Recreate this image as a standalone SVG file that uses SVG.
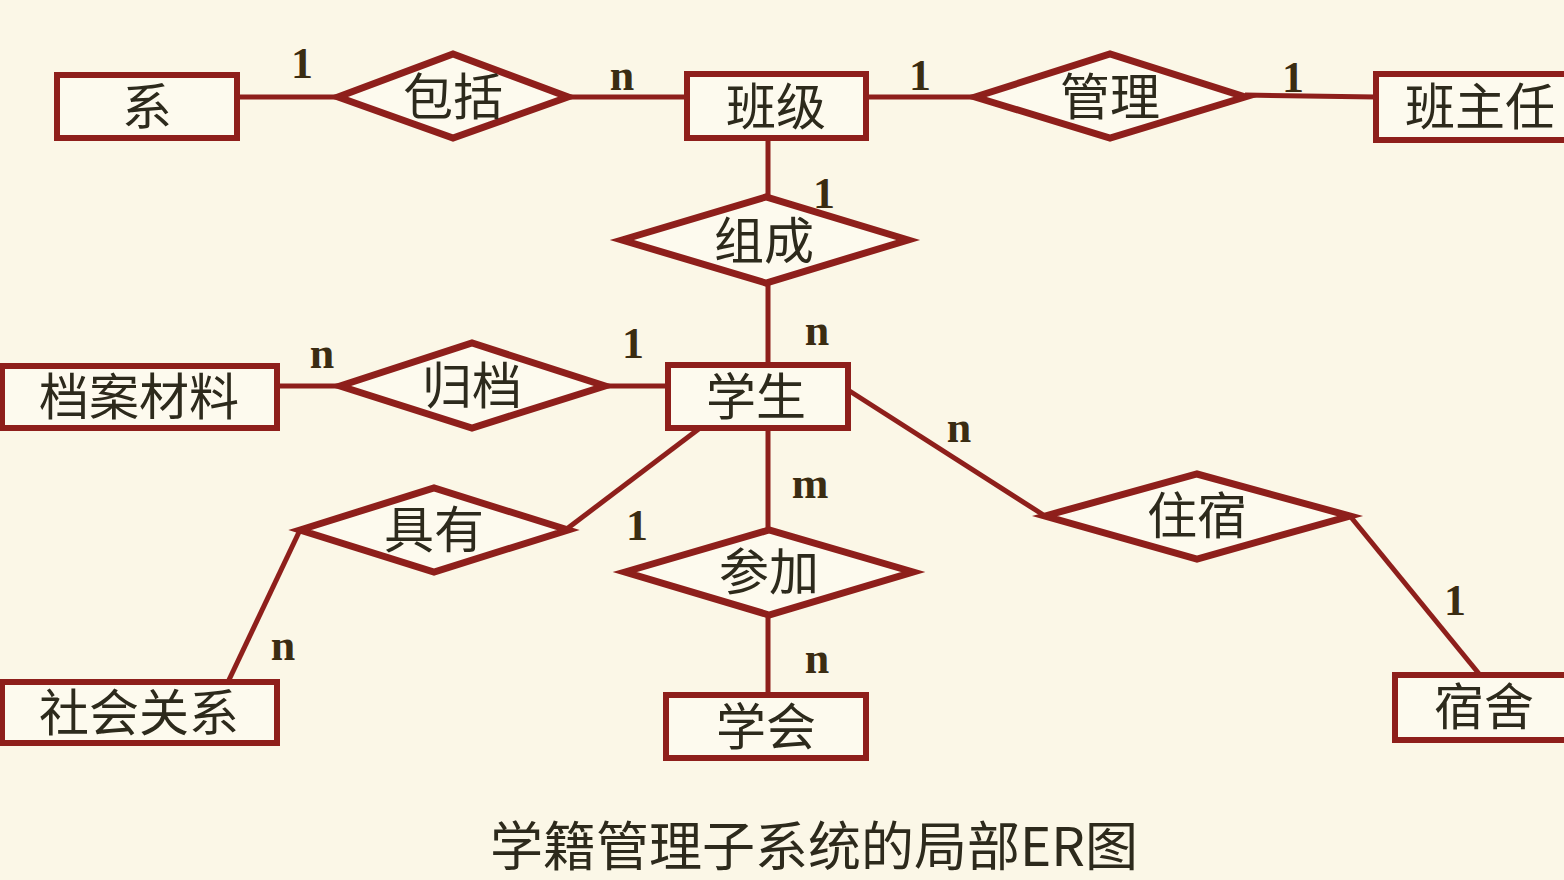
<svg xmlns="http://www.w3.org/2000/svg" width="1564" height="880" viewBox="0 0 1564 880">
<style>
.bg{fill:#fbf7e7}
.ent{fill:#fdfaee;stroke:#8e1f1b;stroke-width:6}
.rel{fill:#fdfaee;stroke:#8e1f1b;stroke-width:7;stroke-linejoin:miter}
.ln{stroke:#8e1f1b;stroke-width:5;fill:none}
.t{font-family:"Noto Sans CJK SC","Liberation Serif",serif;font-size:50px;fill:#2d2a1c;text-anchor:middle}
.c{font-family:"Liberation Serif",serif;font-weight:bold;font-size:44px;fill:#3a2c12;text-anchor:middle}
.title{font-family:"Noto Sans CJK SC","Liberation Serif",serif;font-size:53px;fill:#2d2a1c;text-anchor:middle}
</style>
<rect class="bg" x="0" y="0" width="1564" height="880"/>
<g id="connectors">
<line class="ln" x1="237" y1="97" x2="338" y2="97"/>
<line class="ln" x1="568" y1="97" x2="687" y2="97"/>
<line class="ln" x1="866" y1="97" x2="975" y2="97"/>
<line class="ln" x1="1245" y1="95" x2="1376" y2="97"/>
<line class="ln" x1="768" y1="138" x2="768" y2="197"/>
<line class="ln" x1="768" y1="283" x2="768" y2="365"/>
<line class="ln" x1="277" y1="386" x2="340" y2="386"/>
<line class="ln" x1="605" y1="386" x2="668" y2="386"/>
<line class="ln" x1="700" y1="428" x2="568" y2="528"/>
<line class="ln" x1="300" y1="530" x2="228" y2="682"/>
<line class="ln" x1="768" y1="428" x2="768" y2="530"/>
<line class="ln" x1="768" y1="615" x2="768" y2="695"/>
<line class="ln" x1="848" y1="390" x2="1045" y2="516"/>
<line class="ln" x1="1350" y1="516" x2="1480" y2="675"/>
</g>
<g id="labels">
<text class="c" x="302" y="78">1</text>
<text class="c" x="622" y="90">n</text>
<text class="c" x="920" y="90">1</text>
<text class="c" x="1293" y="92">1</text>
<text class="c" x="824" y="208">1</text>
<text class="c" x="817" y="345">n</text>
<text class="c" x="322" y="368">n</text>
<text class="c" x="633" y="358">1</text>
<text class="c" x="959" y="442">n</text>
<text class="c" x="810" y="498">m</text>
<text class="c" x="637" y="540">1</text>
<text class="c" x="283" y="660">n</text>
<text class="c" x="817" y="673">n</text>
<text class="c" x="1455" y="615">1</text>
</g>
<g id="n-xi"><rect class="ent" x="57" y="75" width="180" height="63"/><text class="t" x="147" y="125">系</text></g>
<g id="n-baokuo"><polygon class="rel" points="338,97 453,54 568,97 453,138"/><text class="t" x="453" y="115">包括</text></g>
<g id="n-banji"><rect class="ent" x="687" y="74" width="179" height="64"/><text class="t" x="776" y="125">班级</text></g>
<g id="n-guanli"><polygon class="rel" points="975,97 1110,54 1245,97 1110,138"/><text class="t" x="1110" y="115">管理</text></g>
<g id="n-banzhuren"><rect class="ent" x="1376" y="74" width="192" height="66"/><text class="t" x="1480" y="125">班主任</text></g>
<g id="n-zucheng"><polygon class="rel" points="622,240 766,197 908,240 766,283"/><text class="t" x="764" y="259">组成</text></g>
<g id="n-xuesheng"><rect class="ent" x="668" y="365" width="180" height="63"/><text class="t" x="756" y="415">学生</text></g>
<g id="n-dangan"><rect class="ent" x="2" y="366" width="275" height="62"/><text class="t" x="139" y="415">档案材料</text></g>
<g id="n-guidang"><polygon class="rel" points="340,386 472,343 605,386 472,428"/><text class="t" x="472" y="404">归档</text></g>
<g id="n-juyou"><polygon class="rel" points="300,530 434,488 568,530 434,572"/><text class="t" x="434" y="548">具有</text></g>
<g id="n-shehui"><rect class="ent" x="2" y="682" width="275" height="61"/><text class="t" x="139" y="731">社会关系</text></g>
<g id="n-canjia"><polygon class="rel" points="625,572 769,530 913,572 769,615"/><text class="t" x="769" y="590">参加</text></g>
<g id="n-xuehui"><rect class="ent" x="666" y="695" width="200" height="63"/><text class="t" x="766" y="745">学会</text></g>
<g id="n-zhusu"><polygon class="rel" points="1045,516 1197,474 1350,516 1197,559"/><text class="t" x="1197" y="534">住宿</text></g>
<g id="n-sushe"><rect class="ent" x="1395" y="675" width="173" height="65"/><text class="t" x="1484" y="725">宿舍</text></g>
<text class="title" x="814" y="866">学籍管理子系统的局部ER图</text>
</svg>
